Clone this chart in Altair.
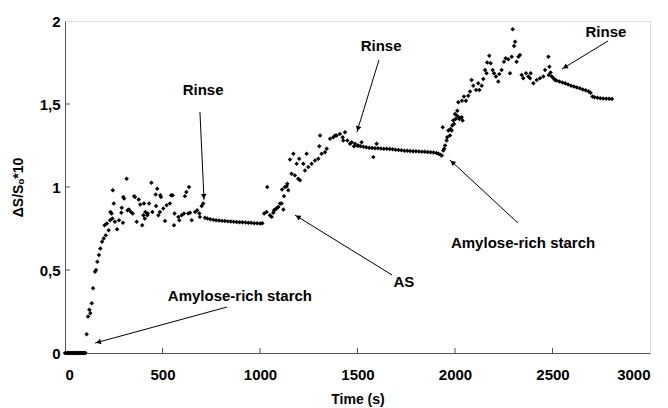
import math
import altair as alt
import pandas as pd

# ---- measured signal, grouped by phase of the experiment ----
# baseline before injection
base_t = [0, 5, 10, 15, 20, 25, 30, 35, 40, 45, 50, 55, 60, 65, 70, 75, 80, 85, 90, 95, 100, 105]
base_v = [0] * len(base_t)

# first injection (amylose-rich starch) and noisy plateau
inj1_t = [111, 118, 125, 130, 137, 144, 154, 159, 166, 174, 181, 190, 198, 203, 209, 215, 224,
          231, 233, 239, 243, 245, 250, 256, 267, 277, 289, 291, 297, 299, 303, 316, 321, 328,
          338, 347, 354, 359, 368, 378, 386, 396, 402, 405, 409, 412, 422, 424, 431, 443, 448,
          465, 467, 473, 479, 487, 489, 492, 504, 513, 521, 538, 544, 552, 559, 562, 581, 586,
          598, 610, 615, 622, 632, 636, 641, 650, 667, 678, 689, 692, 701, 709]
inj1_v = [0.113, 0.22, 0.26, 0.24, 0.30, 0.39, 0.49, 0.50, 0.55, 0.59, 0.63, 0.67, 0.69, 0.77,
          0.71, 0.78, 0.74, 0.80, 0.85, 0.84, 0.81, 0.98, 0.90, 0.79, 0.745, 0.80, 0.845, 0.875,
          0.785, 0.94, 0.93, 1.05, 0.86, 0.865, 0.85, 0.84, 0.945, 0.94, 0.79, 0.925, 0.895, 0.77,
          0.83, 0.90, 0.81, 0.85, 0.83, 0.84, 0.90, 1.026, 0.85, 0.955, 0.885, 0.99, 0.83, 0.85,
          0.95, 0.94, 0.87, 0.795, 0.89, 0.90, 0.95, 0.95, 0.77, 0.84, 0.82, 0.80, 0.83, 0.84,
          0.945, 0.97, 0.84, 1.00, 0.845, 0.80, 0.85, 0.86, 0.84, 0.82, 0.885, 0.90]

# first rinse
rinse1_t = [718, 730, 745, 760, 775, 790, 805, 820, 835, 850, 865, 880, 895, 910, 925, 940, 955,
            970, 985, 1000, 1012]
rinse1_v = [0.815, 0.810, 0.806, 0.803, 0.800, 0.798, 0.796, 0.795, 0.793, 0.792, 0.790, 0.789,
            0.788, 0.787, 0.786, 0.785, 0.784, 0.782, 0.781, 0.780, 0.781]

# AS injection
as_t = [1021, 1034, 1037, 1051, 1060, 1068, 1072, 1077, 1085, 1094, 1103, 1111, 1113, 1120, 1123,
        1128, 1137, 1140, 1145, 1154, 1162, 1171, 1179, 1188, 1196, 1201, 1205, 1222, 1231, 1239,
        1248, 1265, 1282, 1299, 1304, 1308, 1316, 1333, 1342, 1359, 1376, 1385, 1393, 1410, 1424,
        1427, 1436, 1448, 1462, 1470]
as_v = [0.84, 0.85, 1.00, 0.83, 0.82, 0.845, 0.86, 0.865, 0.87, 0.88, 0.90, 0.90, 0.985, 0.865,
        0.945, 1.00, 1.005, 1.02, 0.98, 1.165, 1.08, 1.20, 1.07, 1.14, 1.05, 1.17, 1.04, 1.14,
        1.10, 1.20, 1.12, 1.14, 1.16, 1.17, 1.245, 1.31, 1.20, 1.21, 1.23, 1.29, 1.30, 1.31, 1.31,
        1.32, 1.30, 1.28, 1.33, 1.28, 1.26, 1.27]

# second rinse
rinse2_t = [1482, 1487, 1500, 1504, 1515, 1521, 1530, 1545, 1560, 1575, 1581, 1590, 1598, 1605,
            1620, 1635, 1650, 1665, 1680, 1695, 1710, 1725, 1740, 1755, 1770, 1785, 1800, 1815,
            1830, 1845, 1860, 1875, 1890, 1905, 1915, 1925]
rinse2_v = [1.245, 1.26, 1.248, 1.25, 1.245, 1.27, 1.242, 1.240, 1.237, 1.235, 1.18, 1.234, 1.26,
            1.233, 1.232, 1.231, 1.230, 1.229, 1.227, 1.225, 1.223, 1.221, 1.219, 1.218, 1.217,
            1.216, 1.215, 1.214, 1.213, 1.212, 1.211, 1.210, 1.208, 1.205, 1.200, 1.195]

# second amylose-rich starch injection
inj2_t = [1932, 1937, 1940, 1944, 1949, 1957, 1960, 1966, 1974, 1977, 1983, 1986, 1991, 1995,
          2000, 2003, 2009, 2012, 2017, 2019, 2022, 2034, 2036, 2039, 2046, 2056, 2068, 2077, 2085,
          2094, 2108, 2119, 2125, 2137, 2145, 2154, 2162, 2165, 2176, 2183, 2193, 2200, 2210, 2222,
          2227, 2239, 2251, 2260, 2273, 2282, 2291, 2296, 2303, 2308, 2316, 2325, 2333, 2342, 2350,
          2364, 2376, 2385, 2388, 2402, 2419, 2436, 2453, 2462, 2479, 2481, 2484, 2490, 2496, 2505,
          2513]
inj2_v = [1.19, 1.36, 1.22, 1.23, 1.25, 1.28, 1.30, 1.34, 1.31, 1.35, 1.34, 1.37, 1.40, 1.38,
          1.44, 1.41, 1.43, 1.46, 1.51, 1.42, 1.41, 1.42, 1.52, 1.40, 1.545, 1.52, 1.55, 1.575,
          1.645, 1.61, 1.585, 1.625, 1.585, 1.61, 1.65, 1.705, 1.685, 1.75, 1.79, 1.745, 1.705,
          1.685, 1.665, 1.635, 1.68, 1.705, 1.755, 1.775, 1.77, 1.685, 1.785, 1.95, 1.85, 1.875,
          1.755, 1.785, 1.795, 1.675, 1.655, 1.685, 1.665, 1.655, 1.685, 1.625, 1.645, 1.655, 1.665,
          1.705, 1.785, 1.675, 1.725, 1.69, 1.665, 1.655, 1.645]

# third rinse
rinse3_t = [2520, 2535, 2550, 2565, 2580, 2595, 2610, 2625, 2640, 2655, 2670, 2685, 2695, 2705,
            2715, 2730, 2745, 2760, 2775, 2790, 2805]
rinse3_v = [1.642, 1.635, 1.630, 1.625, 1.618, 1.610, 1.605, 1.600, 1.595, 1.588, 1.583, 1.575,
            1.568, 1.545, 1.540, 1.537, 1.535, 1.533, 1.532, 1.531, 1.530]

# ---- annotations: label position and arrow (start -> tip), in data units ----
ann_text = ["Rinse", "Rinse", "Rinse", "Amylose-rich starch", "AS", "Amylose-rich starch"]
ann_x = [708, 1621, 2774, 2349, 1738, 897]
ann_y = [1.584, 1.849, 1.934, 0.663, 0.428, 0.343]
arrow_x0 = [692, 1610, 2785, 2323, 1677, 831]
arrow_y0 = [1.452, 1.765, 1.880, 0.783, 0.470, 0.277]
arrow_x1 = [713, 1497, 2549, 1974, 1179, 154]
arrow_y1 = [0.922, 1.331, 1.711, 1.163, 0.831, 0.060]

x_ticks = [500, 1000, 1500, 2000, 2500]
y_ticks = [0.5, 1, 1.5]

W, H = 585, 332
X_MAX, Y_MAX = 3000, 2
FONT = "Liberation Sans"

signal = pd.DataFrame({
    "t": base_t + inj1_t + rinse1_t + as_t + rinse2_t + inj2_t + rinse3_t,
    "v": base_v + inj1_v + rinse1_v + as_v + rinse2_v + inj2_v + rinse3_v,
})

# arrowhead centres sit a few pixels back from the tip, rotated along the shaft
px_x, px_y = W / X_MAX, H / Y_MAX
heads = []
for x0, y0, x1, y1 in zip(arrow_x0, arrow_y0, arrow_x1, arrow_y1):
    dx = (x1 - x0) * px_x
    dy = -(y1 - y0) * px_y
    length = math.hypot(dx, dy)
    ux, uy = dx / length, dy / length
    back = 3.5
    heads.append({
        "t": x1 - ux * back / px_x,
        "v": y1 + uy * back / px_y,
        "angle": math.degrees(math.atan2(dx, -dy)) % 360,
    })

arrows = pd.DataFrame({"t": arrow_x0, "v": arrow_y0, "t2": arrow_x1, "v2": arrow_y1})
labels = pd.DataFrame({"t": ann_x, "v": ann_y, "text": ann_text})
heads_df = pd.DataFrame(heads)

xs = alt.Scale(domain=[0, X_MAX], nice=False, zero=True)
ys = alt.Scale(domain=[0, Y_MAX], nice=False, zero=True)

axis_common = dict(
    ticks=False, grid=False, domainColor="#555", domainWidth=1,
    labelFont=FONT, labelFontSize=15, labelFontWeight="bold", labelColor="black",
    titleFont=FONT, titleFontWeight="bold", titleColor="black", titleFontSize=14,
)

X = alt.X("t:Q", scale=xs, axis=alt.Axis(
    values=[0, 500, 1000, 1500, 2000, 2500, 3000], title="Time (s)", format="d",
    labelPadding=14, titlePadding=10, **axis_common))
Y = alt.Y("v:Q", scale=ys, axis=alt.Axis(
    values=[0, 0.5, 1, 1.5, 2], title="ΔS/Sₒ*10",
    labelExpr="replace(toString(datum.value), '.', ',')",
    labelPadding=5, titlePadding=14, **axis_common))

points = alt.Chart(signal).mark_point(
    shape="diamond", filled=True, color="black", size=20, opacity=1
).encode(x=X, y=Y)

xtick = alt.Chart(pd.DataFrame({"t": x_ticks})).mark_rule(color="#555", strokeWidth=1).encode(
    x=X, y=alt.value(H), y2=alt.value(H - 5))
ytick = alt.Chart(pd.DataFrame({"v": y_ticks})).mark_rule(color="#555", strokeWidth=1).encode(
    y=Y, x=alt.value(0), x2=alt.value(5))

shafts = alt.Chart(arrows).mark_rule(color="black", strokeWidth=1).encode(
    x=X, y=Y, x2="t2:Q", y2="v2:Q")

tips = alt.Chart(heads_df).mark_point(
    shape="triangle-up", filled=True, color="black", size=32, opacity=1
).encode(x=X, y=Y, angle=alt.Angle("angle:Q", scale=None))

texts = alt.Chart(labels).mark_text(
    font=FONT, fontSize=15, fontWeight="bold", color="black"
).encode(x=X, y=Y, text="text:N")

chart = alt.layer(points, xtick, ytick, shafts, tips, texts).properties(
    width=W, height=H,
    autosize=alt.AutoSizeParams(type="none"),
    padding={"left": 65, "top": 21, "right": 18, "bottom": 55},
).configure_view(stroke="#555", strokeWidth=1).configure(background="white")

chart.save("out.html", embed_options={"renderer": "svg", "actions": False})
